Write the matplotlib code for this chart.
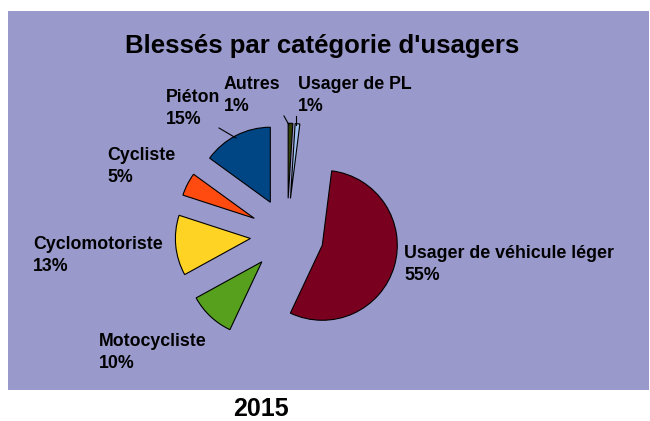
import matplotlib
matplotlib.use("Agg")
import matplotlib.pyplot as plt
from matplotlib.patches import Rectangle

# clockwise from 12 o'clock, same order as the original sheet
categories = ["Autres", "Usager de PL", "Usager de véhicule léger", "Motocycliste",
              "Cyclomotoriste", "Cycliste", "Piéton"]
shares = [1, 1, 55, 10, 13, 5, 15]
colors = ["#334005", "#9EC0F0", "#7A0020", "#57A01E", "#FFD324", "#FF4A10", "#004684"]

TITLE = "Blessés par catégorie d'usagers"
YEAR = "2015"
BG = "#9999CC"

# label anchor (left, top) in pixels, y measured from the top of the image
label_pos = {
    "Autres": (224, 76),
    "Usager de PL": (298, 76),
    "Usager de véhicule léger": (404, 245),
    "Motocycliste": (99, 333),
    "Cyclomotoriste": (33, 236),
    "Cycliste": (107, 147),
    "Piéton": (166, 89),
}

W, H = 650, 421
R = 75  # pie radius in px
fig = plt.figure(figsize=(W / 100, H / 100), dpi=100)
fig.patch.set_facecolor("white")
ax = fig.add_axes([0, 0, 1, 1])

ax.add_patch(Rectangle((8, H - 390), 641, 379, facecolor=BG, edgecolor="none", zorder=0))

# explode is in data units here (px), about half a radius for every slice
ax.pie(shares, colors=colors, startangle=90, counterclock=False,
       center=(287, H - 235), radius=R, explode=[0.49 * R] * len(shares),
       wedgeprops={"edgecolor": "black", "linewidth": 0.8, "zorder": 2})

ax.set_xlim(0, W)
ax.set_ylim(0, H)
ax.set_aspect("equal")
ax.axis("off")

font = dict(family=["Liberation Sans", "DejaVu Sans"], fontweight="bold", fontsize=12.8)
for cat, val in zip(categories, shares):
    x, y = label_pos[cat]
    ax.text(x, H - y, f"{cat}\n{val}%", ha="left", va="top", linespacing=1.4, **font)

# leader lines for the small slices at the top
ax.plot([219, 236], [H - 128, H - 138], color="black", lw=0.8, zorder=3)
ax.plot([284, 289], [H - 116, H - 125], color="black", lw=0.8, zorder=3)
ax.plot([296, 296], [H - 116, H - 125], color="black", lw=0.8, zorder=3)

ax.text(322, H - 46, TITLE, ha="center", va="center", fontsize=18.5,
        family=["Liberation Sans", "DejaVu Sans"], fontweight="bold")
ax.text(261, H - 409, YEAR, ha="center", va="center", fontsize=18,
        family=["Liberation Sans", "DejaVu Sans"], fontweight="bold")

fig.savefig("out.png", dpi=100, facecolor="white")
